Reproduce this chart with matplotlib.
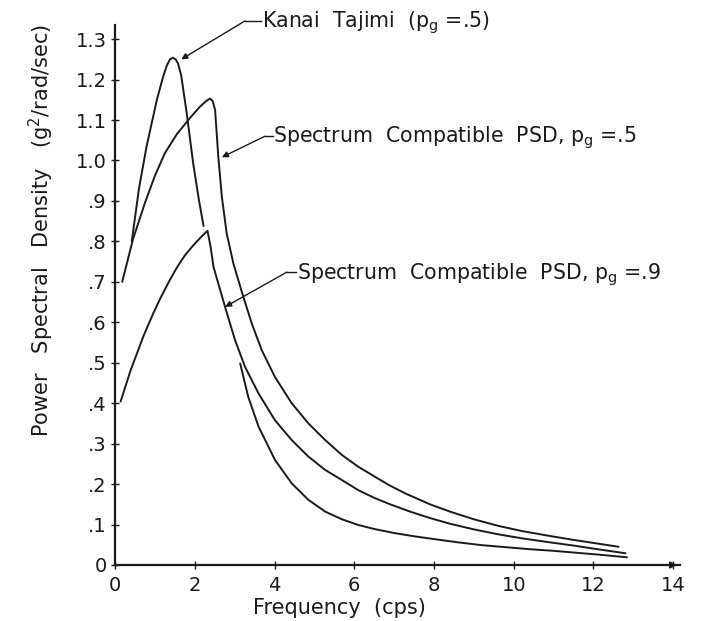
import numpy as np
import matplotlib
matplotlib.use("Agg")
import matplotlib.pyplot as plt

# ---- data ----
kt_x1 = [0.42, 0.60, 0.79, 1.05, 1.20, 1.30, 1.38, 1.45, 1.52, 1.58, 1.66, 1.80, 1.96, 2.10, 2.22]
kt_y1 = [0.80, 0.93, 1.034, 1.150, 1.205, 1.235, 1.250, 1.254, 1.250, 1.240, 1.21, 1.116, 0.993, 0.905, 0.838]
kt_x2 = [3.14, 3.34, 3.60, 4.01, 4.43, 4.85, 5.27, 5.69, 6.10, 6.50, 7.00, 7.50, 8.00, 8.60,
         9.20, 9.80, 10.4, 11.0, 11.6, 12.2, 12.84]
kt_y2 = [0.498, 0.416, 0.342, 0.260, 0.202, 0.161, 0.132, 0.113, 0.099, 0.089, 0.079, 0.071, 0.064, 0.056,
         0.049, 0.044, 0.039, 0.035, 0.030, 0.025, 0.019]

psd5_x = [0.18, 0.45, 0.75, 1.00, 1.25, 1.55, 1.88, 2.13, 2.30, 2.38, 2.45, 2.51, 2.59,
          2.68, 2.80, 2.97, 3.18, 3.43, 3.68, 4.01, 4.43, 4.85, 5.27, 5.69, 6.10, 6.52, 6.90,
          7.30, 7.90, 8.40, 9.00, 9.60, 10.2, 10.83, 11.5, 12.1, 12.63]
psd5_y = [0.70, 0.805, 0.895, 0.962, 1.018, 1.065, 1.105, 1.133, 1.148, 1.153, 1.147, 1.125, 1.01,
          0.91, 0.82, 0.745, 0.675, 0.597, 0.531, 0.465, 0.400, 0.350, 0.309, 0.272, 0.243, 0.218, 0.196,
          0.176, 0.150, 0.132, 0.113, 0.097, 0.084, 0.073, 0.062, 0.053, 0.045]

psd9_x = [0.14, 0.38, 0.71, 0.95, 1.13, 1.35, 1.55, 1.75, 1.96, 2.20, 2.32, 2.40, 2.47, 2.76, 3.01, 3.26, 3.60,
          4.01, 4.43, 4.85, 5.27, 5.69, 6.10, 6.50, 6.90, 7.40, 7.90, 8.40, 9.00, 9.60, 10.2,
          10.83, 11.5, 12.1, 12.8]
psd9_y = [0.404, 0.478, 0.565, 0.620, 0.658, 0.700, 0.735, 0.765, 0.790, 0.815, 0.826, 0.785, 0.737, 0.638, 0.556,
          0.490, 0.424, 0.358, 0.309, 0.268, 0.235, 0.210, 0.185, 0.166, 0.150, 0.132, 0.116, 0.102, 0.088,
          0.076, 0.066, 0.057, 0.048, 0.039, 0.029]

x_ticks = [0, 2, 4, 6, 8, 10, 12, 14]
x_tick_labels = ["0", "2", "4", "6", "8", "10", "12", "14"]
y_ticks = [0, 0.1, 0.2, 0.3, 0.4, 0.5, 0.6, 0.7, 0.8, 0.9, 1.0, 1.1, 1.2, 1.3]
y_tick_labels = ["0", ".1", ".2", ".3", ".4", ".5", ".6", ".7", ".8", ".9", "1.0", "1.1", "1.2", "1.3"]

label_kt = "Kanai  Tajimi  ($\\mathrm{p_g}$ =.5)"
label_p5 = "Spectrum  Compatible  PSD, $\\mathrm{p_g}$ =.5"
label_p9 = "Spectrum  Compatible  PSD, $\\mathrm{p_g}$ =.9"

# ---- figure ----
plt.rcParams['font.family'] = ['DejaVu Sans']
plt.rcParams['mathtext.fontset'] = 'dejavusans'
ink = '#1a1a1a'

fig = plt.figure(figsize=(7.03, 6.21), dpi=100)
ax = fig.add_axes([0.1636, 0.0902, 0.8037, 0.8696])

lw = 1.4
style = dict(color=ink, lw=lw, solid_capstyle='round', solid_joinstyle='round')
ax.plot(kt_x1, kt_y1, **style)
ax.plot(kt_x2, kt_y2, **style)
ax.plot(psd5_x, psd5_y, **style)
ax.plot(psd9_x, psd9_y, **style)

ax.set_xlim(0, 14.17)
ax.set_ylim(0, 1.335)

for s in ['top', 'right']:
    ax.spines[s].set_visible(False)
for s in ['left', 'bottom']:
    ax.spines[s].set_linewidth(1.6)
    ax.spines[s].set_color(ink)

ax.set_xticks(x_ticks)
ax.set_xticklabels(x_tick_labels)
ax.set_yticks(y_ticks)
ax.set_yticklabels(y_tick_labels)
ax.tick_params(axis='both', direction='inout', length=6, width=1.0, colors=ink, labelsize=14)
ax.tick_params(axis='x', pad=5.0)
ax.tick_params(axis='y', pad=3.0)

# arrow at the end of the x axis
ax.annotate('', xy=(14.17, 0), xytext=(13.9, 0), xycoords='data',
            arrowprops=dict(arrowstyle='-|>', color=ink, lw=1.2, mutation_scale=10),
            annotation_clip=False)

ax.set_xlabel("Frequency  (cps)", fontsize=15, color=ink)
ax.xaxis.set_label_coords(0.398, -0.062)
ax.set_ylabel("Power   Spectral   Density   ($\\mathrm{g^2}$/rad/sec)", fontsize=15, color=ink)
ax.yaxis.set_label_coords(-0.104, 0.62)

fs = 14.8
arrow_kw = dict(arrowstyle='-|>', color=ink, lw=1.0, mutation_scale=9, shrinkA=0, shrinkB=0)

def leader(text, tx, ty, bx, by, ax_, ay_):
    ax.text(tx, ty, text, fontsize=fs, color=ink, ha='left', va='baseline', clip_on=False)
    ax.plot([tx - 0.02, bx], [by, by], color=ink, lw=1.0, clip_on=False)
    ax.annotate('', xy=(ax_, ay_), xytext=(bx, by), arrowprops=arrow_kw, annotation_clip=False)

leader(label_kt, 3.68, 1.330, 3.26, 1.345, 1.66, 1.25)
leader(label_p5, 3.97, 1.045, 3.76, 1.060, 2.68, 1.008)
leader(label_p9, 4.57, 0.707, 4.31, 0.724, 2.76, 0.638)

fig.savefig("out.png", dpi=100, facecolor='white')
